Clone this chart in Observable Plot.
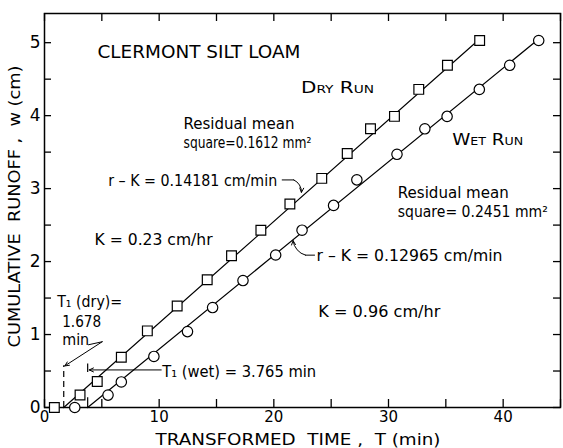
<!DOCTYPE html>
<html><head><meta charset="utf-8">
<script src="https://cdn.jsdelivr.net/npm/d3@7"></script>
<script src="https://cdn.jsdelivr.net/npm/@observablehq/plot@0.6"></script>
<style>body{margin:0;background:#fff} svg{display:block}</style>
</head><body><div id="chart"></div>
<script>
// ---- data ----
const dryT = [0.86, 3.10, 4.60, 6.70, 8.97, 11.57, 14.19, 16.31, 18.87, 21.40, 24.18, 26.40, 28.43, 30.52, 32.64, 35.14, 37.95];
const dryW = [0, 0.17, 0.355, 0.69, 1.05, 1.39, 1.75, 2.08, 2.43, 2.79, 3.14, 3.48, 3.82, 3.99, 4.36, 4.69, 5.03];
const wetT = [2.64, 5.54, 6.70, 9.54, 12.47, 14.66, 17.31, 20.16, 22.46, 25.21, 27.24, 30.74, 33.17, 35.11, 37.92, 40.57, 43.10];
const wetW = [0, 0.17, 0.35, 0.70, 1.04, 1.37, 1.74, 2.09, 2.43, 2.77, 3.12, 3.47, 3.82, 3.99, 4.36, 4.69, 5.03];
const dryFitT = [1.678, 37.95];
const dryFitW = [0, 5.05];
const wetFitT = [3.765, 43.10];
const wetFitW = [0, 5.05];
const xTickLabels = [0, 10, 20, 30, 40];
const yTickLabels = [0, 1, 2, 3, 4, 5];
const xMinorTicks = [0, 5, 10, 15, 20, 25, 30, 35, 40, 45];
const yMinorTicks = [0, 0.5, 1, 1.5, 2, 2.5, 3, 3.5, 4, 4.5, 5];
const xTitle = "TRANSFORMED  TIME ,  T (min)";
const yTitle = "CUMULATIVE  RUNOFF ,  w (cm)";

const dry = dryT.map((t, i) => ({t, w: dryW[i]}));
const wet = wetT.map((t, i) => ({t, w: wetW[i]}));
const dryFit = dryFitT.map((t, i) => ({t, w: dryFitW[i]}));
const wetFit = wetFitT.map((t, i) => ({t, w: wetFitW[i]}));

// ---- annotation layout ----
const notes = [
  {x: 4.62, y: 4.793, text: "CLERMONT SILT LOAM", size: 17, w: 203},
  {x: 12.12, y: 3.819, text: "Residual mean", size: 15, w: 112},
  {x: 12.12, y: 3.562, text: "square=0.1612 mm²", size: 15, w: 128},
  {x: 5.555, y: 3.04, text: "r – K = 0.14181 cm/min", size: 15, w: 169},
  {x: 30.81, y: 2.872, text: "Residual mean", size: 15, w: 111},
  {x: 30.81, y: 2.606, text: "square= 0.2451 mm²", size: 15, w: 150},
  {x: 4.37, y: 2.232, text: "K = 0.23 cm/hr", size: 15, w: 118},
  {x: 23.72, y: 2.005, text: "r – K = 0.12965 cm/min", size: 15, w: 186},
  {x: 1.107, y: 1.381, text: "T₁ (dry)=", size: 15, w: 65},
  {x: 1.544, y: 1.097, text: "1.678", size: 15, w: 39},
  {x: 1.544, y: 0.86, text: "min", size: 15, w: 27},
  {x: 23.88, y: 1.235, text: "K = 0.96 cm/hr", size: 15, w: 122},
  {x: 10.26, y: 0.421, text: "T₁ (wet) = 3.765 min", size: 15, w: 154}
];
const capNotes = [
  {x: 22.37, y: 4.317, text: "Dry Run", size: 16, w: 73},
  {x: 35.55, y: 3.604, text: "Wet Run", size: 16, w: 71}
];
const leaderLines = [
  [{t: 20.73, w: 3.119}, {t: 21.74, w: 3.119}],
  [{t: 23.55, w: 2.088}, {t: 22.76, w: 2.088}],
  [{t: 3.84, w: 0.860}, {t: 5.03, w: 0.901}]
];
const arrows = [
  {x1: 21.74, y1: 3.119, x2: 22.41, y2: 2.949, bend: 35},
  {x1: 22.76, y1: 2.088, x2: 21.68, y2: 2.287, bend: 35},
  {x1: 5.03, y1: 0.901, x2: 1.77, y2: 0.57, bend: 0},
  {x1: 10.18, y1: 0.515, x2: 3.90, y2: 0.515, bend: 0}
];
const t1Segments = [
  {x: dryFitT[0], y1: 0, y2: 0.572, dash: "6,4"},
  {x: wetFitT[0], y1: 0.48, y2: 0.597, dash: null},
  {x: wetFitT[0], y1: 0, y2: 0.133, dash: null}
];
const textWidths = new Map([
  ...notes.map(d => [d.text, d.w]),
  ...capNotes.map(d => [d.text, d.w]),
  [xTitle, 285],
  [yTitle, 282]
]);

const font = "DejaVu Sans";
const svg = Plot.plot({
  width: 563, height: 448,
  marginLeft: 44, marginRight: 3, marginTop: 13, marginBottom: 41,
  style: {fontFamily: font, background: "white", color: "black"},
  x: {domain: [0, 45]},
  y: {domain: [0, 5.4]},
  marks: [
    Plot.frame({stroke: "black", strokeWidth: 1.5}),
    Plot.ruleX(xMinorTicks, {x: d => d, y1: 0, y2: 0.11, strokeWidth: 1.3}),
    Plot.ruleX(xMinorTicks, {x: d => d, y1: 5.29, y2: 5.4, strokeWidth: 1.3}),
    Plot.ruleY(yMinorTicks, {y: d => d, x1: 0, x2: 0.61, strokeWidth: 1.3}),
    Plot.ruleY(yMinorTicks, {y: d => d, x1: 44.39, x2: 45, strokeWidth: 1.3}),
    Plot.axisX({ticks: xTickLabels, tickSize: 0, tickPadding: 4, fontSize: 15, label: null, tickFormat: d => String(d)}),
    Plot.axisY({ticks: yTickLabels, tickSize: 0, tickPadding: 4, fontSize: 17, label: null, tickFormat: d => String(d)}),
    Plot.line(dryFit, {x: "t", y: "w", strokeWidth: 1.2}),
    Plot.line(wetFit, {x: "t", y: "w", strokeWidth: 1.2}),
    ...t1Segments.map(s => Plot.ruleX([s], {x: "x", y1: "y1", y2: "y2", strokeWidth: 1.2, strokeDasharray: s.dash})),
    ...leaderLines.map(l => Plot.line(l, {x: "t", y: "w", strokeWidth: 1})),
    ...arrows.map(a => Plot.arrow([a], {x1: "x1", y1: "y1", x2: "x2", y2: "y2", bend: a.bend, strokeWidth: 1, headLength: 7, headAngle: 50})),
    Plot.dot(dry, {x: "t", y: "w", symbol: "square", r: 5.5, fill: "white", stroke: "black", strokeWidth: 1.2}),
    Plot.dot(wet, {x: "t", y: "w", symbol: "circle", r: 5.2, fill: "white", stroke: "black", strokeWidth: 1.2}),
    Plot.text(notes, {x: "x", y: "y", text: "text", fontSize: d => d.size, textAnchor: "start", lineAnchor: "bottom", fill: "black"}),
    Plot.text(capNotes, {x: "x", y: "y", text: "text", fontSize: d => d.size, fontVariant: "small-caps", textAnchor: "start", lineAnchor: "bottom", fill: "black"}),
    Plot.text([xTitle], {text: d => d, frameAnchor: "bottom", textAnchor: "start", dx: -147, dy: 37, lineAnchor: "bottom", fontSize: 16, fill: "black"}),
    Plot.text([yTitle], {text: d => d, frameAnchor: "left", rotate: -90, textAnchor: "start", dx: -30, dy: 137, lineAnchor: "middle", fontSize: 16, fill: "black"})
  ]
});

d3.select(svg).selectAll("text").each(function() {
  const w = textWidths.get(this.textContent);
  if (w) {
    this.setAttribute("textLength", w);
    this.setAttribute("lengthAdjust", "spacingAndGlyphs");
  }
});

document.getElementById("chart").append(svg);
</script>
</body></html>
